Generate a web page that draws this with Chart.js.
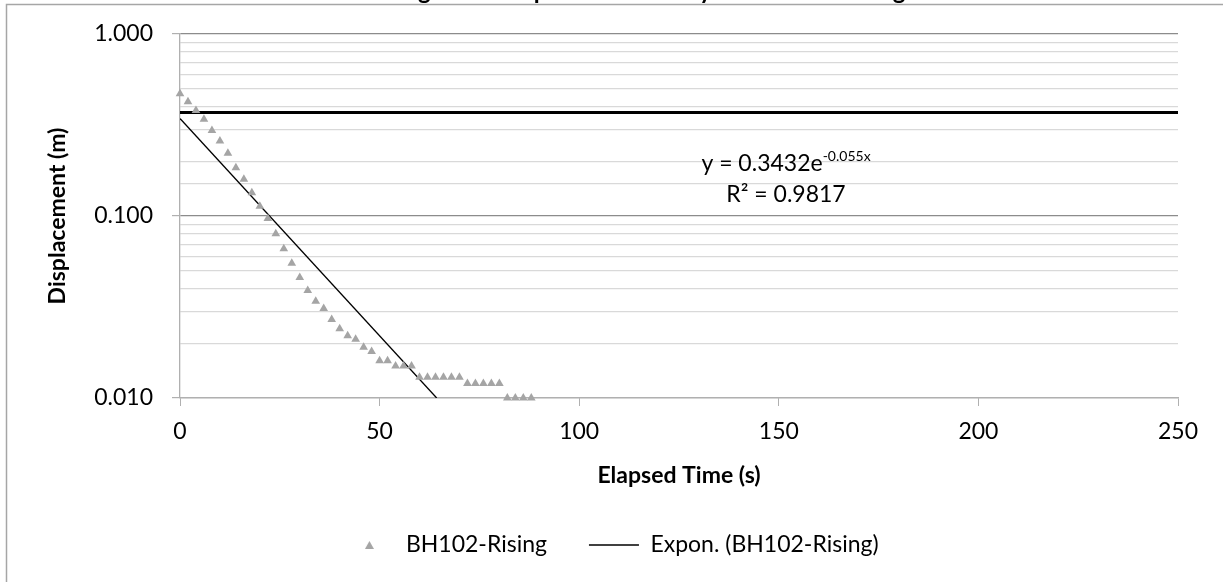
<!DOCTYPE html>
<html>
<head>
<meta charset="utf-8">
<script src="https://cdn.jsdelivr.net/npm/chart.js@4"></script>
<style>
  html, body { margin: 0; padding: 0; background: #fff; overflow: hidden; }
  #wrap { width: 1223px; height: 582px; position: relative; }
</style>
</head>
<body>
<div id="wrap"><canvas id="riseChart" width="1223" height="582"></canvas></div>
<script>
// elapsed time (s) and measured displacement (m), BH102 rising head test
const times = [0, 2, 4, 6, 8, 10, 12, 14, 16, 18, 20, 22, 24, 26, 28, 30, 32, 34, 36, 38,
  40, 42, 44, 46, 48, 50, 52, 54, 56, 58, 60, 62, 64, 66, 68, 70, 72, 74, 76, 78,
  80, 82, 84, 86, 88];
const displacement = [0.47, 0.425, 0.38, 0.34, 0.295, 0.258, 0.221, 0.184, 0.159, 0.134,
  0.113, 0.097, 0.080, 0.066, 0.055, 0.046, 0.039, 0.034, 0.031, 0.027,
  0.024, 0.022, 0.021, 0.019, 0.018, 0.016, 0.016, 0.015, 0.015, 0.015,
  0.013, 0.013, 0.013, 0.013, 0.013, 0.013, 0.012, 0.012, 0.012, 0.012,
  0.012, 0.010, 0.010, 0.010, 0.010];
// trendline end points (y = 0.3432e^-0.055x, cut at the axis minimum)
const trendTimes = [0, 64.3];
const trendValues = [0.3432, 0.01];
// 0.37 reference line across the plot
const refTimes = [0, 250];
const refValues = [0.37, 0.37];
const xTicks = [0, 50, 100, 150, 200, 250];
const titleText = 'Rising Head Displacement Analysis - BH102 Rising';
const eqText = 'y = 0.3432e';
const eqExp = '-0.055x';
const r2Text = 'R² = 0.9817';

const FONT = 'Lato, "Open Sans", sans-serif';
const MARKER = '#a5a5a5';
const toPoints = (xs, ys) => xs.map((x, i) => ({ x: x, y: ys[i] }));
const isMajor = v => Math.abs(Math.log10(v) - Math.round(Math.log10(v))) < 1e-6;

// small triangle for the legend (the line item needs a wide box, the triangle must stay small)
const legendTri = document.createElement('canvas');
legendTri.width = 9;
legendTri.height = 8;
(function () {
  const c = legendTri.getContext('2d');
  c.fillStyle = MARKER;
  c.beginPath();
  c.moveTo(4.5, 0);
  c.lineTo(9, 8);
  c.lineTo(0, 8);
  c.closePath();
  c.fill();
})();

const decorPlugin = {
  id: 'decor',
  beforeDraw(chart) {
    const ctx = chart.ctx;
    ctx.save();
    ctx.fillStyle = '#fff';
    ctx.fillRect(0, 0, chart.width, chart.height);
    // chart title sits above the crop, only descenders show
    ctx.fillStyle = '#000';
    ctx.font = 'bold 24px ' + FONT;
    ctx.textAlign = 'center';
    ctx.textBaseline = 'alphabetic';
    ctx.fillText(titleText, 636, -1);
    // outer border (left and top edges visible)
    ctx.strokeStyle = '#a6a6a6';
    ctx.lineWidth = 1.5;
    ctx.beginPath();
    ctx.moveTo(6.5, chart.height);
    ctx.lineTo(6.5, 4.5);
    ctx.lineTo(chart.width, 4.5);
    ctx.stroke();
    ctx.restore();
  },
  afterDatasetsDraw(chart) {
    const ctx = chart.ctx;
    const cx = 786;
    ctx.save();
    ctx.fillStyle = '#000';
    ctx.textBaseline = 'alphabetic';
    ctx.font = '23px ' + FONT;
    const w1 = ctx.measureText(eqText).width;
    ctx.font = '14px ' + FONT;
    const w2 = ctx.measureText(eqExp).width;
    const x0 = cx - (w1 + w2) / 2;
    ctx.textAlign = 'left';
    ctx.font = '23px ' + FONT;
    ctx.fillText(eqText, x0, 171);
    ctx.font = '14px ' + FONT;
    ctx.fillText(eqExp, x0 + w1, 161);
    ctx.font = '23px ' + FONT;
    ctx.textAlign = 'center';
    ctx.fillText(r2Text, cx, 202);
    ctx.restore();
  }
};

new Chart(document.getElementById('riseChart'), {
  type: 'scatter',
  data: {
    datasets: [
      {
        label: 'BH102-Rising',
        data: toPoints(times, displacement),
        pointStyle: 'triangle',
        pointRadius: 5,
        pointHoverRadius: 5,
        backgroundColor: MARKER,
        borderColor: MARKER,
        pointBorderWidth: 0,
        borderWidth: 0,
        showLine: false,
        clip: false
      },
      {
        label: 'Expon. (BH102-Rising)',
        data: toPoints(trendTimes, trendValues),
        showLine: true,
        pointRadius: 0,
        pointStyle: 'line',
        borderColor: '#000',
        backgroundColor: '#000',
        borderWidth: 1.3
      },
      {
        label: 'ref',
        data: toPoints(refTimes, refValues),
        showLine: true,
        pointRadius: 0,
        borderColor: '#000',
        borderWidth: 3
      }
    ]
  },
  options: {
    responsive: false,
    animation: false,
    events: [],
    layout: { padding: { left: 0, right: 0, top: 34, bottom: 15.5 } },
    plugins: {
      tooltip: { enabled: false },
      title: { display: false },
      legend: {
        position: 'bottom',
        labels: {
          usePointStyle: true,
          pointStyleWidth: 50,
          boxHeight: 6.5,
          padding: 42,
          color: '#000',
          font: { family: FONT, size: 23 },
          filter: item => item.datasetIndex !== 2,
          generateLabels: chart => {
            const items = Chart.defaults.plugins.legend.labels.generateLabels(chart);
            items.forEach(it => { if (it.datasetIndex === 0) it.pointStyle = legendTri; });
            return items;
          }
        }
      }
    },
    scales: {
      x: {
        type: 'linear',
        min: 0,
        max: 250,
        afterBuildTicks: s => { s.ticks = xTicks.map(v => ({ value: v })); },
        afterFit: s => { s.height = 93.5; },
        ticks: { color: '#000', padding: 12, font: { family: FONT, size: 23 } },
        grid: { drawOnChartArea: false, tickLength: 8, tickColor: '#b0b0b0' },
        border: { color: '#b0b0b0', width: 1.3 },
        title: {
          display: true,
          text: 'Elapsed Time (s)',
          color: '#000',
          font: { family: FONT, size: 23, weight: 'bold' },
          padding: { top: 0, bottom: 1.7 }
        }
      },
      y: {
        type: 'logarithmic',
        position: 'left',
        min: 0.01,
        max: 1,
        afterFit: s => { s.width = 180; },
        ticks: {
          autoSkip: false,
          color: '#000',
          padding: 19,
          font: { family: FONT, size: 23 },
          callback: v => isMajor(v) ? Number(v).toFixed(3) : ''
        },
        grid: {
          tickLength: 8,
          lineWidth: 1.2,
          color: c => (c.tick && isMajor(c.tick.value)) ? '#8c8c8c' : '#d9d9d9',
          tickColor: c => (c.tick && isMajor(c.tick.value)) ? '#b0b0b0' : 'rgba(0,0,0,0)'
        },
        border: { color: '#b0b0b0', width: 1.3 },
        title: {
          display: true,
          text: 'Displacement (m)',
          color: '#000',
          font: { family: FONT, size: 23, weight: 'bold' },
          padding: { top: 44.2, bottom: 0 }
        }
      },
      yRight: {
        type: 'linear',
        position: 'right',
        display: true,
        afterFit: s => { s.width = 45; },
        grid: { display: false },
        ticks: { display: false },
        border: { display: false }
      }
    }
  },
  plugins: [decorPlugin]
});
</script>
</body>
</html>
